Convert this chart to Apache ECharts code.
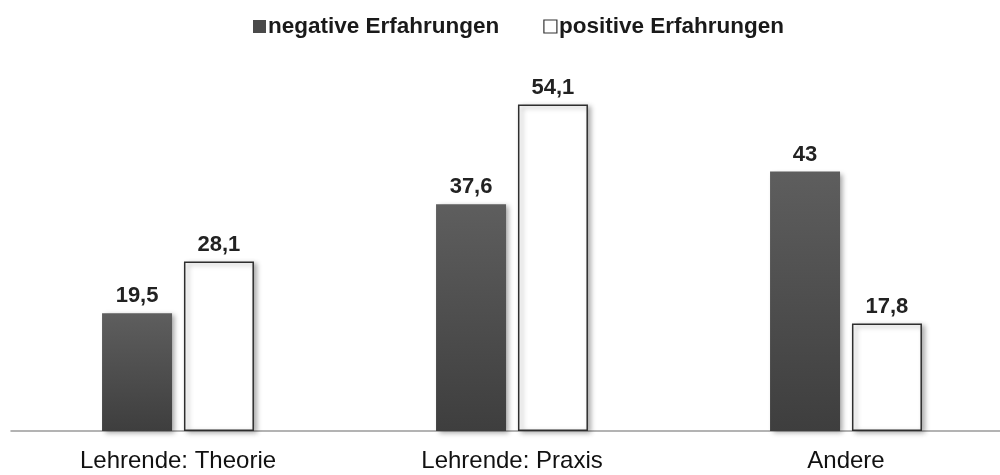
<!DOCTYPE html>
<html>
<head>
<meta charset="utf-8">
<style>
  html, body { margin: 0; padding: 0; background: #ffffff; overflow: hidden; }
  #chart { width: 1016px; height: 475px; }
</style>
<script src="https://cdn.jsdelivr.net/npm/echarts@6/dist/echarts.min.js"></script>
</head>
<body>
<div id="chart"></div>
<script>
// Anteile in Prozent je Gruppe
const categories = ['Lehrende: Theorie', 'Lehrende: Praxis', 'Andere'];
const negativeValues = [19.5, 37.6, 43];
const positiveValues = [28.1, 54.1, 17.8];
const seriesNames = ['negative Erfahrungen', 'positive Erfahrungen'];

const fontFamily = '"Liberation Sans", Arial, sans-serif';
const fmt = p => String(p.value).replace('.', ',');

const shadow = {
  shadowBlur: 5,
  shadowOffsetX: 3,
  shadowOffsetY: 2,
  shadowColor: 'rgba(0,0,0,0.35)'
};

const valueLabel = {
  show: true,
  position: 'top',
  distance: 6,
  formatter: fmt,
  fontFamily: fontFamily,
  fontSize: 22,
  fontWeight: 'bold',
  color: '#222222'
};

const chart = echarts.init(document.getElementById('chart'), null, { renderer: 'canvas' });
chart.setOption({
  animation: false,
  backgroundColor: '#ffffff',
  legend: {
    top: 10,
    left: 248,
    itemWidth: 13,
    itemHeight: 13,
    itemGap: 44,
    textStyle: { fontFamily: fontFamily, fontSize: 22.5, fontWeight: 'bold', color: '#1a1a1a', padding: [0, 0, 0, -3] },
    data: [
      { name: seriesNames[0], icon: 'rect', itemStyle: { color: '#4a4a4a', borderWidth: 0 } },
      { name: seriesNames[1], icon: 'rect', itemStyle: { color: '#ffffff', borderColor: '#333333', borderWidth: 1.2 } }
    ]
  },
  grid: { left: 11, width: 1002, top: 69, bottom: 44, containLabel: false },
  xAxis: {
    type: 'category',
    data: categories,
    axisLine: { show: true, lineStyle: { color: '#9a9a9a', width: 1.5 } },
    axisTick: { show: false },
    axisLabel: {
      margin: 18,
      fontFamily: fontFamily,
      fontSize: 24,
      color: '#111111'
    }
  },
  yAxis: {
    type: 'value',
    min: 0,
    max: 60,
    show: false,
    splitLine: { show: false }
  },
  series: [
    {
      name: seriesNames[0],
      type: 'bar',
      data: negativeValues,
      barWidth: 70,
      barGap: '17%',
      itemStyle: Object.assign({
        color: new echarts.graphic.LinearGradient(0, 0, 0, 1, [
          { offset: 0, color: '#5e5e5e' },
          { offset: 1, color: '#3e3e3e' }
        ])
      }, shadow),
      label: valueLabel
    },
    {
      name: seriesNames[1],
      type: 'bar',
      data: positiveValues,
      barWidth: 70,
      itemStyle: Object.assign({
        color: '#ffffff',
        borderColor: '#2e2e2e',
        borderWidth: 1.5
      }, shadow),
      label: valueLabel
    }
  ]
});
</script>
</body>
</html>
